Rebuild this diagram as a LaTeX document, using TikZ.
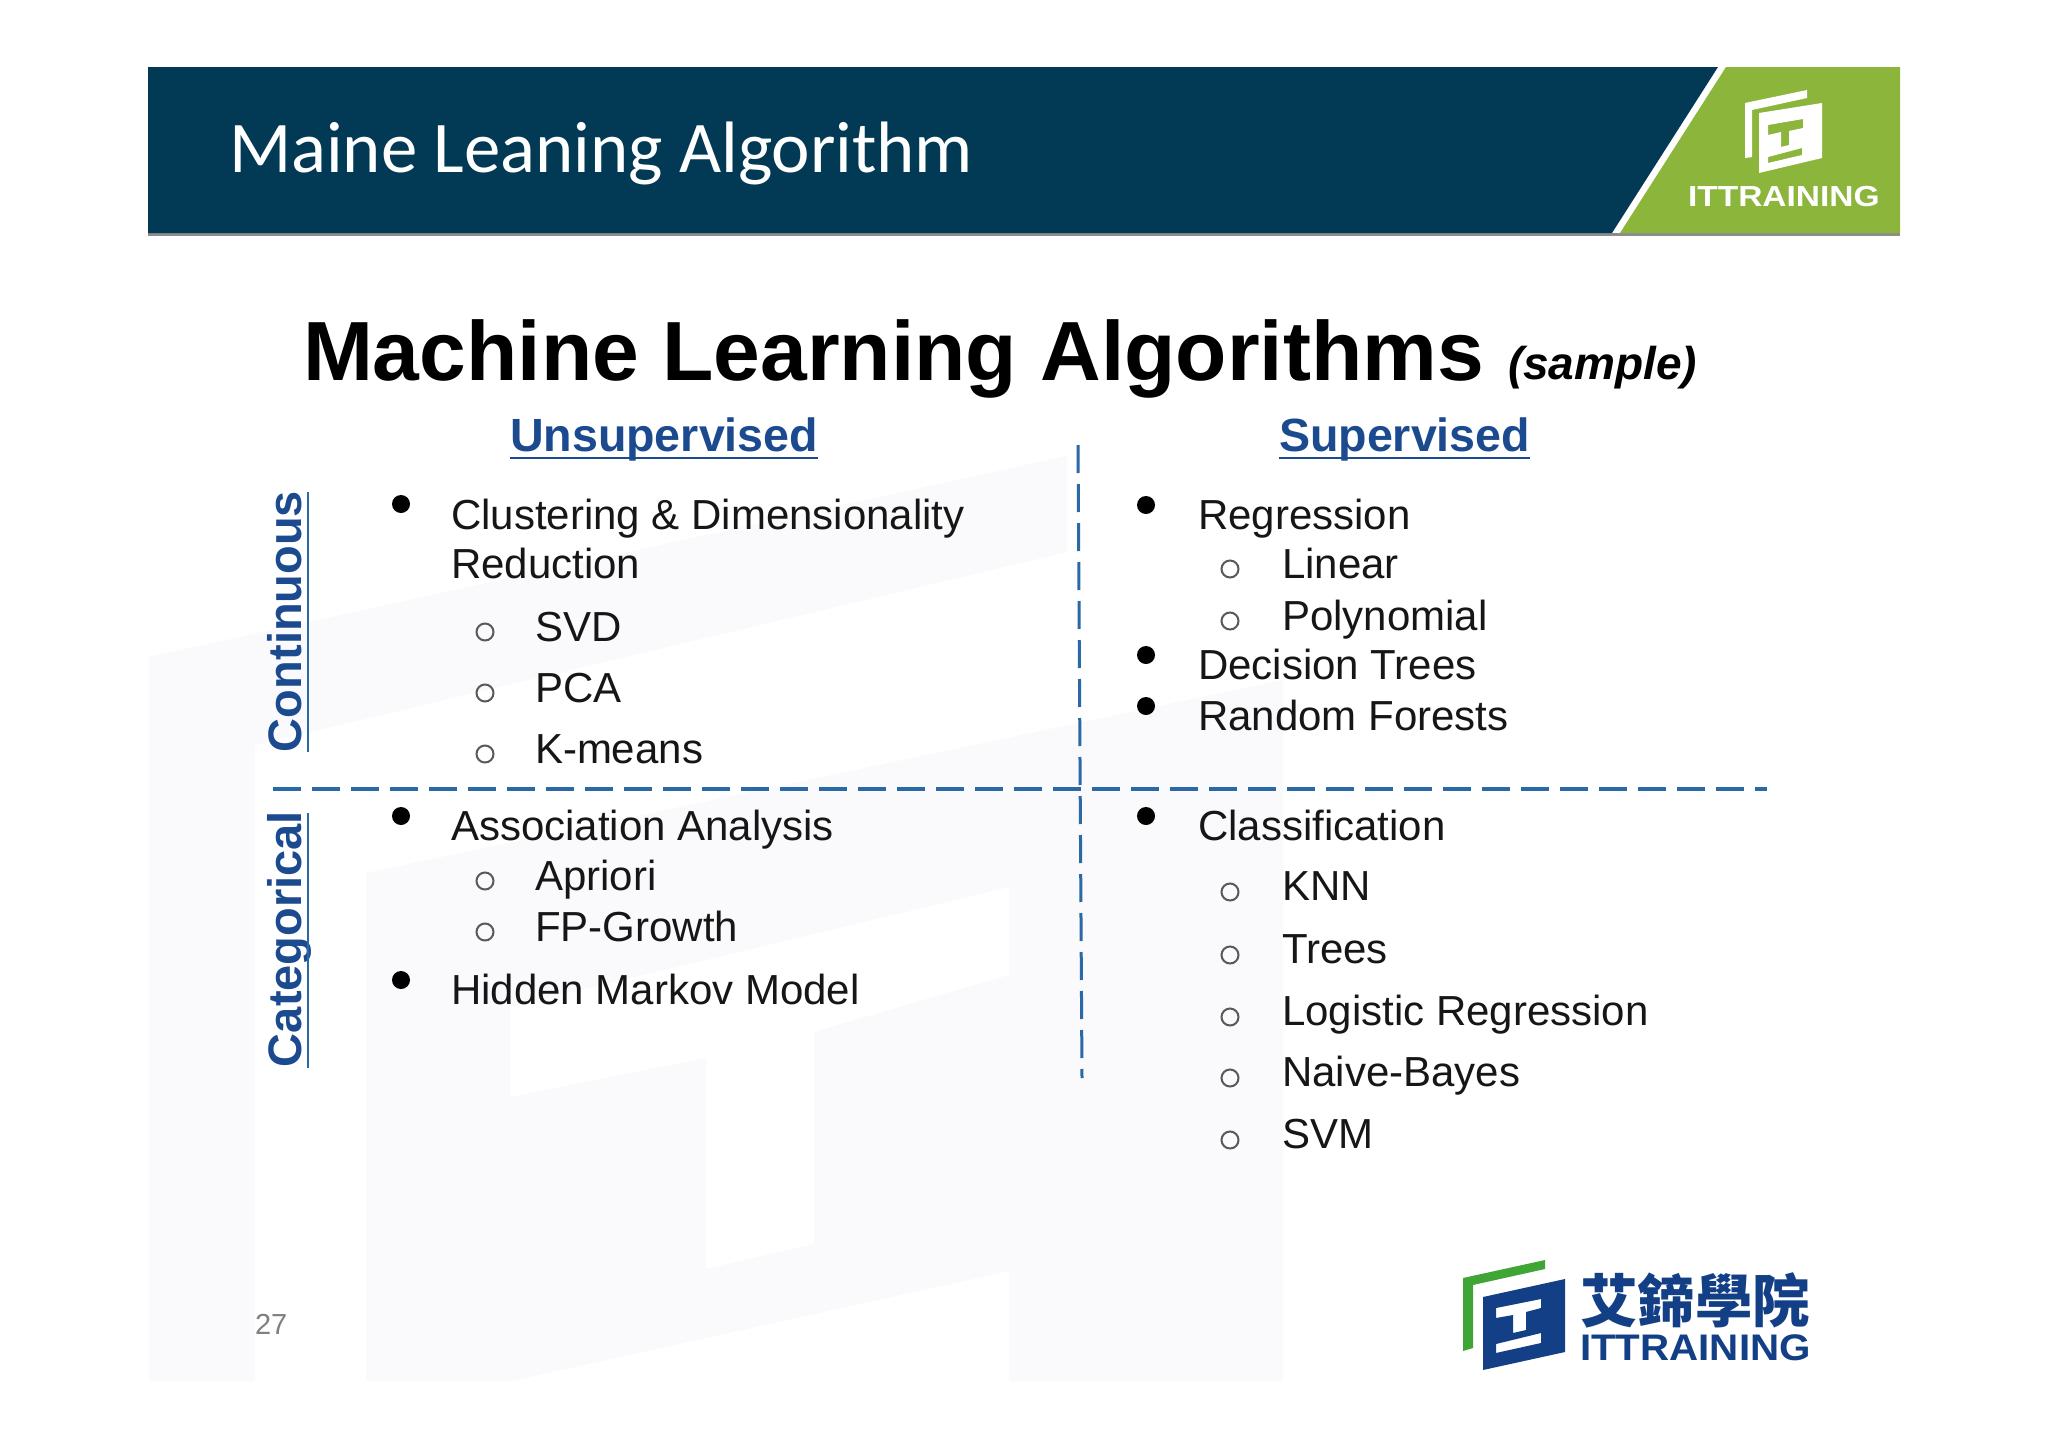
\documentclass[tikz,border=0pt]{standalone}
\usepackage{fontspec}
\usepackage{graphicx}
\usetikzlibrary{calc}
\setmainfont{Liberation Sans}
\newfontfamily\carlitofont{Carlito}
\newfontfamily\cjkfont{Noto Sans CJK TC}
\definecolor{banner}{HTML}{023A56}
\definecolor{leaf}{HTML}{8CB53C}
\definecolor{wmark}{HTML}{FAF9FB}
\definecolor{headblue}{HTML}{1C4A8F}
\definecolor{dashblue}{HTML}{2A69A6}
\definecolor{navy}{HTML}{123F85}
\definecolor{logogreen}{HTML}{3FA535}
\definecolor{bodyink}{HTML}{161616}
\tikzset{
  txt/.style={inner sep=0pt,outer sep=0pt,anchor=base west},
  body/.style={txt,text=bodyink,font=\fontsize{42}{50}\selectfont},
  bul/.style={circle,fill=black,inner sep=0pt,minimum size=18pt},
  hol/.style={circle,draw=black!65,line width=2pt,inner sep=0pt,minimum size=17pt},
  headtxt/.style={txt,text=headblue,font=\fontsize{46.6}{54}\selectfont\bfseries},
  sidetxt/.style={txt,rotate=90,text=headblue,font=\fontsize{47}{54}\selectfont\bfseries},
  uline/.style={draw=headblue,line width=2.5pt},
  sideline/.style={draw=dashblue,line width=1.5pt},
  divider/.style={draw=dashblue,line width=3.5pt,dash pattern=on 28pt off 11pt},
}
\begin{document}
\begin{tikzpicture}[x=1pt,y=-1pt]
\useasboundingbox (0,0) rectangle (2048,1448);
\fill[white] (0,0) rectangle (2048,1448);
% watermark
\fill[wmark] (149,657) -- (1067,456) -- (1067,552) -- (255,745) -- (255,1381) -- (149,1381) -- cycle;
\fill[wmark,even odd rule] (366,873) -- (1283,680) -- (1283,1381) -- (366,1381) -- cycle
  (510,1007) -- (1009,887) -- (1009,975) -- (814,1032) -- (814,1244) -- (706,1269) -- (706,1058) -- (510,1097) -- cycle
  (511,1381) -- (1009,1271) -- (1009,1381) -- cycle;
% banner
\fill[black!45] (148,233) rectangle (1900,236);
\fill[banner] (148,67) -- (1718,67) -- (1612,233) -- (148,233) -- cycle;
\fill[leaf] (1726,67) -- (1900,67) -- (1900,233) -- (1620,233) -- cycle;
\node[txt,text=white,font=\carlitofont\fontsize{72.8}{80}\selectfont] (title) at (229,172) {Maine Leaning Algorithm};
% green-tab logo
\fill[white] (1745,103) -- (1807,90) -- (1807,98) -- (1752,110) -- (1752,157) -- (1745,158) -- cycle;
\fill[white,even odd rule] (1759,113) -- (1822,103) -- (1822,158) -- (1759,173) -- cycle
  (1768,125) -- (1803,119) -- (1803,128) -- (1789,131) -- (1789,145) -- (1781,147) -- (1781,132) -- (1768,135) -- cycle
  (1768,157) -- (1802,148) -- (1802,155) -- (1768,163) -- cycle;
\node[txt,text=white,font=\fontsize{29}{32}\selectfont\bfseries] (tabname) at (1688,206) {\scalebox{1.155}[1]{ITTRAINING}};
% main heading
\node[txt,text=black,font=\fontsize{84}{90}\selectfont\bfseries] (heading) at (303,380) {Machine Learning Algorithms};
\node[txt,text=black,font=\fontsize{46}{50}\selectfont\bfseries\itshape] (sample) at (1508,379) {(sample)};
% column heads
\node[headtxt] (unsup) at (510,451) {Unsupervised};
\node[headtxt] (sup) at (1279,451) {Supervised};
\draw[uline] ($(unsup.base west)+(0,7)$) -- ($(unsup.base east)+(0,7)$);
\draw[uline] ($(sup.base west)+(0,7)$) -- ($(sup.base east)+(0,7)$);
% side heads
\node[sidetxt] (cont) at (301,752) {Continuous};
\node[sidetxt] (cat) at (301,1067) {Categorical};
\coordinate (conta) at (308,752); \coordinate (contb) at (308,492);
\coordinate (cata) at (308,1068); \coordinate (catb) at (308,813);
\draw[sideline] (conta) -- (contb);
\draw[sideline] (cata) -- (catb);
% dividers
\coordinate (hl) at (273,789); \coordinate (hr) at (1767,789);
\coordinate (vt) at (1078,445); \coordinate (vb) at (1082,1078);
\draw[divider] (hl) -- (hr);
\draw[divider,line width=3pt] (vt) -- (vb);
% left column
\node[bul] (b1) at (401,504) {};
\node[body] (t1) at (451,529) {Clustering \& Dimensionality};
\node[body] (t2) at (451,578) {Reduction};
\node[hol] (h1) at (485,632) {};
\node[body] (t3) at (535,641) {SVD};
\node[hol] (h2) at (485,693) {};
\node[body] (t4) at (535,702) {PCA};
\node[hol] (h3) at (485,754) {};
\node[body] (t5) at (535,763) {K-means};
\node[bul] (b2) at (401,816) {};
\node[body] (t6) at (451,840) {Association Analysis};
\node[hol] (h4) at (485,881) {};
\node[body] (t7) at (535,890) {Apriori};
\node[hol] (h5) at (485,932) {};
\node[body] (t8) at (535,941) {FP-Growth};
\node[bul] (b3) at (401,980) {};
\node[body] (t9) at (451,1004) {Hidden Markov Model};
% right column
\node[bul] (b4) at (1146,505) {};
\node[body] (r1) at (1198,529) {Regression};
\node[hol] (h6) at (1230,569) {};
\node[body] (r2) at (1282,578) {Linear};
\node[hol] (h7) at (1230,621) {};
\node[body] (r3) at (1282,630) {Polynomial};
\node[bul] (b5) at (1146,655) {};
\node[body] (r4) at (1198,679) {Decision Trees};
\node[bul] (b6) at (1146,706) {};
\node[body] (r5) at (1198,730) {Random Forests};
\node[bul] (b7) at (1146,816) {};
\node[body] (r6) at (1198,840) {Classification};
\node[hol] (h8) at (1230,892) {};
\node[body] (r7) at (1282,900) {KNN};
\node[hol] (h9) at (1230,955) {};
\node[body] (r8) at (1282,963) {Trees};
\node[hol] (h10) at (1230,1017) {};
\node[body] (r9) at (1282,1025) {Logistic Regression};
\node[hol] (h11) at (1230,1078) {};
\node[body] (r10) at (1282,1086) {Naive-Bayes};
\node[hol] (h12) at (1230,1140) {};
\node[body] (r11) at (1282,1148) {SVM};
% page number
\node[txt,text=black!50,font=\fontsize{29}{32}\selectfont] (pg) at (255,1334) {27};
% bottom logo
\fill[logogreen] (1463,1278) -- (1545,1260) -- (1545,1269) -- (1473,1285) -- (1473,1348) -- (1463,1351) -- cycle;
\fill[navy,even odd rule] (1483,1297) -- (1565,1279) -- (1565,1352) -- (1483,1370) -- cycle
  (1496,1308) -- (1541,1299) -- (1541,1308) -- (1526,1312) -- (1526,1330) -- (1513,1333) -- (1513,1315) -- (1496,1318) -- cycle
  (1496,1344) -- (1541,1333) -- (1541,1343) -- (1496,1353) -- cycle;
\node[txt,text=navy,font=\cjkfont\fontsize{57.5}{60}\selectfont\bfseries] (cn) at (1580,1322) {艾鍗學院};
\node[txt,text=navy,font=\fontsize{37}{40}\selectfont\bfseries] (en) at (1580,1360) {\scalebox{1.09}[1]{ITTRAINING}};
\end{tikzpicture}
\end{document}
